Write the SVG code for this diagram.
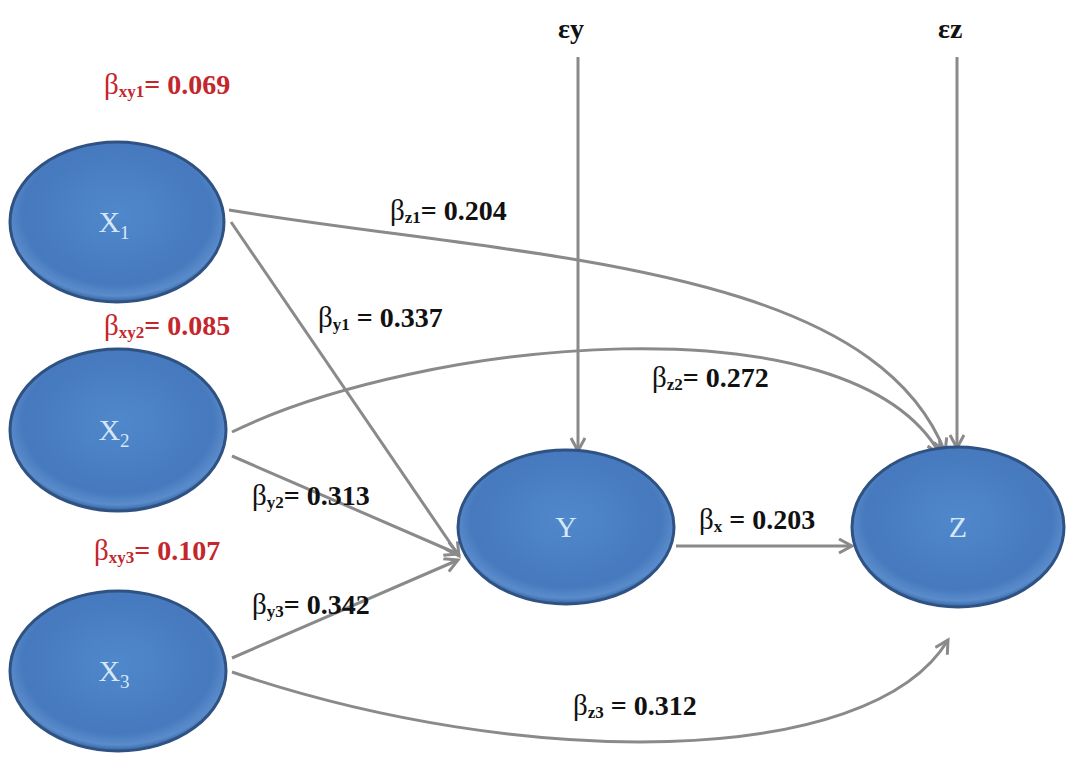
<svg xmlns="http://www.w3.org/2000/svg" width="1070" height="764" viewBox="0 0 1070 764">
<defs>
<radialGradient id="g" cx="50%" cy="45%" r="55%">
<stop offset="0" stop-color="#5088cc"/>
<stop offset="0.8" stop-color="#4679bd"/>
<stop offset="0.93" stop-color="#5a8ccc"/>
<stop offset="1" stop-color="#34639f"/>
</radialGradient>
<marker id="arr" markerUnits="userSpaceOnUse" markerWidth="20" markerHeight="20" refX="15" refY="8" orient="auto">
<path d="M2,1 L15,8 L2,15" fill="none" stroke="#8a8a8a" stroke-width="3"/>
</marker>
<style>
.node ellipse{fill:url(#g);stroke:#2f5282;stroke-width:3}
.nt{font-family:"Liberation Serif",serif;font-size:30px;fill:#d6e8f8;text-anchor:middle}
.nt tspan.s{font-size:19px}
.c{fill:none;stroke:#8a8a8a;stroke-width:3;marker-end:url(#arr)}
.lb{font-family:"Liberation Serif",serif;font-weight:bold;font-size:28px;fill:#111}
.red{fill:#c4262c}
.b{font-weight:normal;font-size:29px}
.sub{font-size:17px}
</style>
</defs>
<rect width="1070" height="764" fill="#ffffff"/>
<g id="connectors">
<path class="c" d="M578,57 L578,451"/>
<path class="c" d="M957,57 L957,448"/>
<path class="c" d="M229,210 C520,258 870,262 945,452"/>
<path class="c" d="M231,222 L459,556"/>
<path class="c" d="M232,432 C420,340 850,295 940,454"/>
<path class="c" d="M232,456 L458,554"/>
<path class="c" d="M232,658 L458,560"/>
<path class="c" d="M232,672 C520,770 870,770 948,640"/>
<path class="c" d="M676,546 L852,546"/>
</g>
<g id="X1" class="node"><ellipse cx="117" cy="222" rx="107" ry="80"/><text class="nt" x="114" y="232">X<tspan class="s" dy="7">1</tspan></text></g>
<g id="X2" class="node"><ellipse cx="118" cy="430" rx="108" ry="81"/><text class="nt" x="114" y="440">X<tspan class="s" dy="7">2</tspan></text></g>
<g id="X3" class="node"><ellipse cx="118" cy="671" rx="108" ry="80"/><text class="nt" x="114" y="681">X<tspan class="s" dy="7">3</tspan></text></g>
<g id="Y" class="node"><ellipse cx="566" cy="527" rx="108" ry="77"/><text class="nt" x="566" y="537">Y</text></g>
<g id="Z" class="node"><ellipse cx="958" cy="527" rx="106" ry="80"/><text class="nt" x="958" y="537">Z</text></g>
<g id="labels">
<text class="lb" x="558" y="38" font-size="28">εy</text>
<text class="lb" x="938" y="38" font-size="28">εz</text>
<text class="lb red" x="104" y="94"><tspan class="b">β</tspan><tspan class="sub" dy="3">xy1</tspan><tspan dy="-3">= 0.069</tspan></text>
<text class="lb red" x="104" y="335"><tspan class="b">β</tspan><tspan class="sub" dy="3">xy2</tspan><tspan dy="-3">= 0.085</tspan></text>
<text class="lb red" x="94" y="560"><tspan class="b">β</tspan><tspan class="sub" dy="3">xy3</tspan><tspan dy="-3">= 0.107</tspan></text>
<text class="lb" x="390" y="220"><tspan class="b">β</tspan><tspan class="sub" dy="3">z1</tspan><tspan dy="-3">= 0.204</tspan></text>
<text class="lb" x="318" y="327"><tspan class="b">β</tspan><tspan class="sub" dy="3">y1</tspan><tspan dy="-3"> = 0.337</tspan></text>
<text class="lb" x="652" y="387"><tspan class="b">β</tspan><tspan class="sub" dy="3">z2</tspan><tspan dy="-3">= 0.272</tspan></text>
<text class="lb" x="252" y="505"><tspan class="b">β</tspan><tspan class="sub" dy="3">y2</tspan><tspan dy="-3">= 0.313</tspan></text>
<text class="lb" x="252" y="614"><tspan class="b">β</tspan><tspan class="sub" dy="3">y3</tspan><tspan dy="-3">= 0.342</tspan></text>
<text class="lb" x="699" y="529"><tspan class="b">β</tspan><tspan class="sub" dy="3">x</tspan><tspan dy="-3"> = 0.203</tspan></text>
<text class="lb" x="573" y="715"><tspan class="b">β</tspan><tspan class="sub" dy="3">z3</tspan><tspan dy="-3"> = 0.312</tspan></text>
</g>
</svg>
